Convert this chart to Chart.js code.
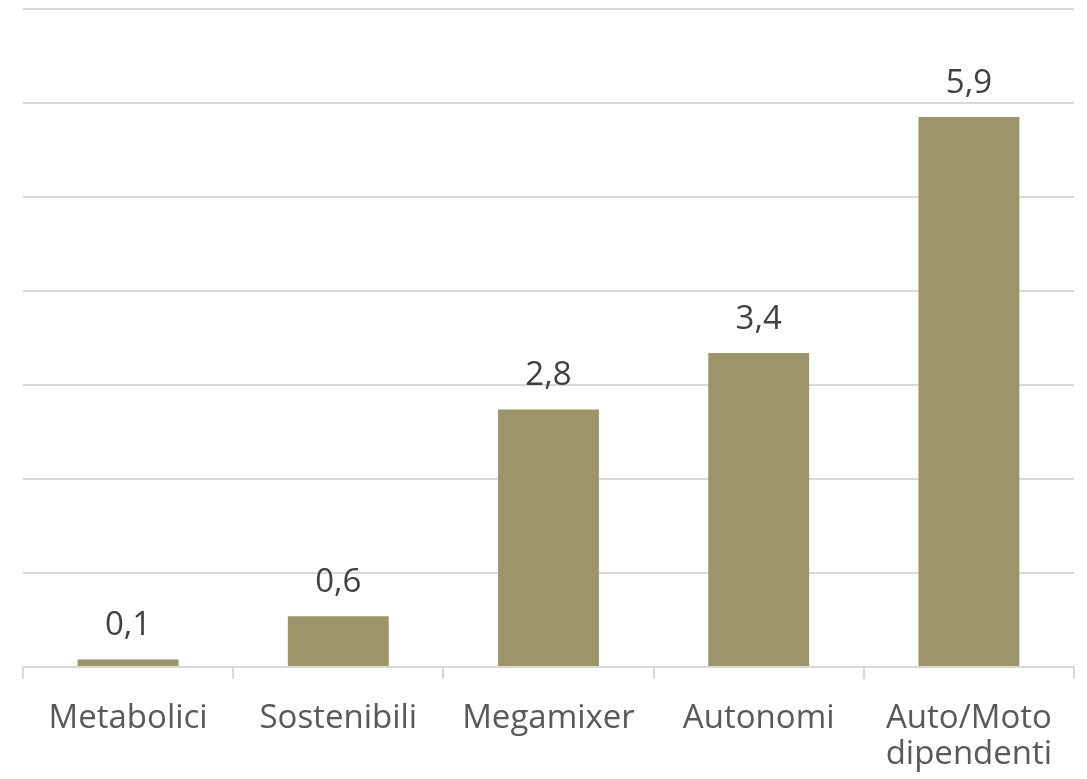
<!DOCTYPE html>
<html>
<head>
<meta charset="utf-8">
<script src="https://cdn.jsdelivr.net/npm/chart.js@4.4.1/dist/chart.umd.min.js"></script>
<style>
  html, body { margin: 0; padding: 0; background: #fff; }
  #wrap { width: 1087px; height: 779px; }
</style>
</head>
<body>
<div id="wrap"><canvas id="chart" width="1087" height="779"></canvas></div>
<script>
// Categories and values
let categories = ['Metabolici', 'Sostenibili', 'Megamixer', 'Autonomi', ['Auto/Moto', 'dipendenti']];
let values = [0.08, 0.54, 2.74, 3.34, 5.85];
let valueLabels = ['0,1', '0,6', '2,8', '3,4', '5,9'];

// Draws the value label above every bar
const barLabels = {
    id: 'barLabels',
    afterDatasetsDraw(chart) {
        const ctx = chart.ctx;
        const meta = chart.getDatasetMeta(0);
        ctx.save();
        ctx.font = '33px "Open Sans"';
        ctx.fillStyle = '#404040';
        ctx.textAlign = 'center';
        ctx.textBaseline = 'alphabetic';
        meta.data.forEach((bar, i) => {
            ctx.fillText(valueLabels[i], bar.x, bar.y - 24);
        });
        ctx.restore();
    }
};

new Chart(document.getElementById('chart'), {
    type: 'bar',
    data: {
        labels: categories,
        datasets: [{
            data: values,
            backgroundColor: '#9e946a',
            categoryPercentage: 1,
            barPercentage: 0.48
        }]
    },
    options: {
        responsive: false,
        animation: false,
        layout: { padding: { left: 23, right: 13, top: 9, bottom: 0 } },
        plugins: {
            legend: { display: false },
            tooltip: { enabled: false }
        },
        scales: {
            x: {
                // fixed axis height so the baseline sits where the original has it
                afterFit: scale => { scale.height = 112; },
                grid: {
                    offset: true,
                    drawOnChartArea: false,
                    color: '#d9d9d9',
                    lineWidth: 2,
                    tickLength: 12
                },
                border: { color: '#d9d9d9', width: 2 },
                ticks: {
                    color: '#595959',
                    font: { family: 'Open Sans', size: 33, lineHeight: '36px' },
                    padding: 22,
                    maxRotation: 0
                }
            },
            y: {
                min: 0,
                max: 7,
                ticks: { display: false, stepSize: 1 },
                grid: { color: '#d9d9d9', lineWidth: 2, drawTicks: false },
                border: { display: false }
            }
        }
    },
    plugins: [barLabels]
});
</script>
</body>
</html>
